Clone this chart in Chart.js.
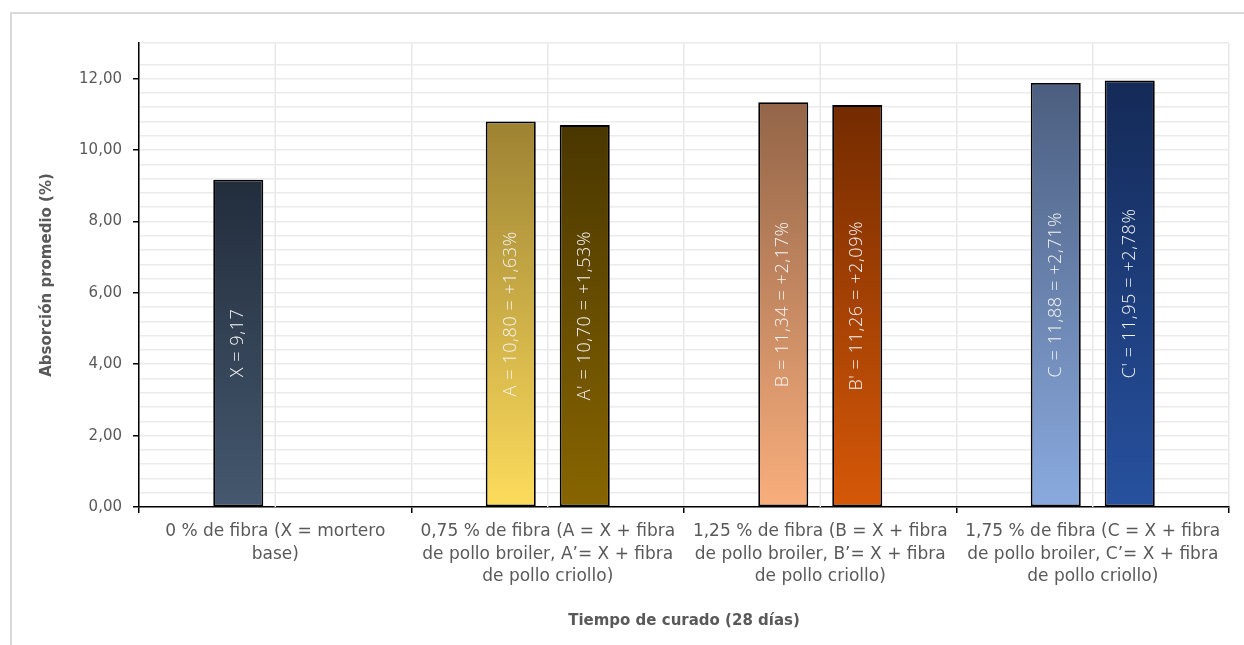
<!DOCTYPE html>
<html>
<head>
<meta charset="utf-8">
<script src="https://cdn.jsdelivr.net/npm/chart.js@4.4.1/dist/chart.umd.min.js"></script>
<style>
  html, body { margin: 0; padding: 0; background: #ffffff; }
  body { width: 1244px; height: 645px; overflow: hidden; position: relative; }
  #frame { position: absolute; left: 10px; top: 12px; width: 1250px; height: 660px;
           border: 2px solid #d9d9d9; box-sizing: border-box; }
  #wrap { position: absolute; left: 0; top: 0; width: 1244px; height: 645px; }
</style>
</head>
<body>
<div id="frame"></div>
<div id="wrap"><canvas id="chart" width="1244" height="645"></canvas></div>
<script>
// Mortar water absorption after 28 days of curing
const categories = [
  ['0 % de fibra (X = mortero', 'base)'],
  ['0,75 % de fibra (A = X + fibra', 'de pollo broiler, A’= X + fibra', 'de pollo criollo)'],
  ['1,25 % de fibra (B = X + fibra', 'de pollo broiler, B’= X + fibra', 'de pollo criollo)'],
  ['1,75 % de fibra (C = X + fibra', 'de pollo broiler, C’= X + fibra', 'de pollo criollo)']
];
const broilerValues = [9.17, 10.80, 11.34, 11.88];
const criolloValues = [null, 10.70, 11.26, 11.95];
const broilerLetters = ['X', 'A', 'B', 'C'];
const criolloLetters = [null, "A'", "B'", "C'"];
const yTickLabelStep = 2;

// gradient colours per bar: [top, bottom]
const broilerColors = [
  ['#222d3c', '#45586f'],
  ['#9d8233', '#fddc5c'],
  ['#936548', '#f9ae7c'],
  ['#4b5e7f', '#8aaadf']
];
const criolloColors = [
  null,
  ['#4a3700', '#876500'],
  ['#742b00', '#d65808'],
  ['#142a57', '#27519f']
];

const baseValue = broilerValues[0];
const fmt = v => v.toFixed(2).replace('.', ',');
const isMajor = v => Math.abs(v / yTickLabelStep - Math.round(v / yTickLabelStep)) < 1e-6;

function barLabel(letter, v) {
  if (letter === 'X') return letter + ' = ' + fmt(v);
  return letter + ' = ' + fmt(v) + ' = +' + fmt(v - baseValue) + '%';
}

function gradientFill(colors) {
  return ctx => {
    const chart = ctx.chart;
    const v = ctx.raw;
    const pair = colors[ctx.dataIndex];
    if (!chart.chartArea || v == null || !pair) return 'rgba(0,0,0,0)';
    const y = chart.scales.y;
    const top = y.getPixelForValue(v);
    const bottom = y.getPixelForValue(0);
    const g = chart.ctx.createLinearGradient(0, top, 0, bottom);
    g.addColorStop(0, pair[0]);
    g.addColorStop(1, pair[1]);
    return g;
  };
}

const FONT = "'DejaVu Sans', sans-serif";
const LABEL_FONT = "300 18px 'Open Sans', 'DejaVu Sans', sans-serif";
const GREY = '#595959';

// vertical gridlines through category centres
const centreLines = {
  id: 'centreLines',
  beforeDatasetsDraw(chart) {
    const {ctx, chartArea, scales: {x}} = chart;
    ctx.save();
    ctx.strokeStyle = '#e8e8e8';
    ctx.lineWidth = 1.5;
    categories.forEach((c, i) => {
      const px = x.getPixelForValue(i);
      ctx.beginPath();
      ctx.moveTo(px, chartArea.top);
      ctx.lineTo(px, chartArea.bottom);
      ctx.stroke();
    });
    ctx.restore();
  }
};

// rotated value labels centred inside each bar
const barLabels = {
  id: 'barLabels',
  afterDatasetsDraw(chart) {
    const ctx = chart.ctx;
    const letterSets = [broilerLetters, criolloLetters];
    chart.data.datasets.forEach((ds, di) => {
      const meta = chart.getDatasetMeta(di);
      meta.data.forEach((el, i) => {
        const v = ds.data[i];
        const letter = letterSets[di][i];
        if (v == null || !letter) return;
        ctx.save();
        ctx.translate(el.x, (el.y + el.base) / 2);
        ctx.rotate(-Math.PI / 2);
        ctx.fillStyle = '#f4f4f4';
        ctx.font = LABEL_FONT;
        if ('letterSpacing' in ctx) ctx.letterSpacing = '0.6px';
        ctx.textAlign = 'center';
        ctx.textBaseline = 'middle';
        ctx.fillText(barLabel(letter, v), 0, 0);
        ctx.restore();
      });
    });
  }
};

new Chart(document.getElementById('chart'), {
  type: 'bar',
  data: {
    labels: categories,
    datasets: [
      {
        label: 'Fibra de pollo broiler',
        data: broilerValues,
        backgroundColor: gradientFill(broilerColors),
        borderColor: '#000000',
        borderWidth: 1.8,
        borderSkipped: false,
        categoryPercentage: 0.543,
        barPercentage: 0.676
      },
      {
        label: 'Fibra de pollo criollo',
        data: criolloValues,
        backgroundColor: gradientFill(criolloColors),
        borderColor: '#000000',
        borderWidth: 1.8,
        borderSkipped: false,
        categoryPercentage: 0.543,
        barPercentage: 0.676
      }
    ]
  },
  options: {
    responsive: false,
    animation: false,
    devicePixelRatio: 1,
    layout: { padding: { left: 0, top: 43, right: 15, bottom: 0 } },
    plugins: {
      legend: { display: false },
      tooltip: { enabled: false }
    },
    scales: {
      x: {
        offset: true,
        grid: {
          offset: true,
          color: ctx => ctx.index === categories.length ? '#d9d9d9' : '#e8e8e8',
          lineWidth: 1.5,
          tickColor: '#000000',
          tickLength: 6,
          tickWidth: 1.5
        },
        border: { color: '#000000', width: 1.5 },
        ticks: {
          color: GREY,
          font: { family: FONT, size: 17, lineHeight: 1.34 },
          padding: 7,
          maxRotation: 0,
          autoSkip: false
        },
        title: {
          display: true,
          text: 'Tiempo de curado (28 días)',
          color: GREY,
          font: { family: FONT, size: 15, weight: 'bold' },
          padding: { top: 0, bottom: 15 }
        },
        afterFit(scale) { scale.height = 138; }
      },
      y: {
        min: 0,
        max: 13,
        grid: {
          color: '#ebebeb',
          lineWidth: 1.5,
          tickColor: ctx => (ctx.tick && isMajor(ctx.tick.value)) ? '#000000' : 'rgba(0,0,0,0)',
          tickLength: 6,
          tickWidth: 1.5
        },
        border: { color: '#000000', width: 1.5 },
        ticks: {
          stepSize: 0.4,
          autoSkip: false,
          color: GREY,
          font: { family: FONT, size: 15 },
          padding: 11,
          callback: v => isMajor(v) ? fmt(v) : ''
        },
        title: {
          display: true,
          text: 'Absorción promedio (%)',
          color: GREY,
          font: { family: FONT, size: 15, weight: 'bold' },
          padding: { top: 38, bottom: 0 }
        },
        afterFit(scale) { scale.width = 139; }
      }
    }
  },
  plugins: [centreLines, barLabels]
});
</script>
</body>
</html>
